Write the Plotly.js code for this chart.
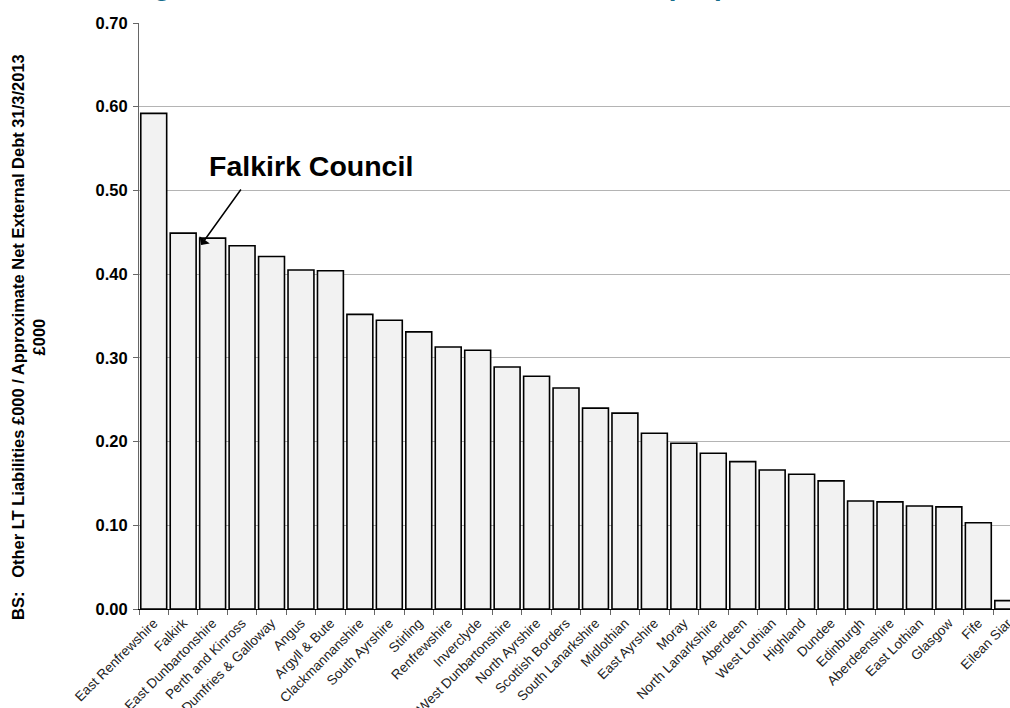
<!DOCTYPE html>
<html>
<head>
<meta charset="utf-8">
<script src="https://cdn.plot.ly/plotly-3.0.1.min.js"></script>
<style>html,body{margin:0;padding:0;background:#fff;}#chart{width:1010px;height:708px;}</style>
</head>
<body>
<div id="chart"></div>
<script>
const councils = ["East Renfrewshire","Falkirk","East Dunbartonshire","Perth and Kinross","Dumfries & Galloway","Angus","Argyll & Bute","Clackmannanshire","South Ayrshire","Stirling","Renfrewshire","Inverclyde","West Dunbartonshire","North Ayrshire","Scottish Borders","South Lanarkshire","Midlothian","East Ayrshire","Moray","North Lanarkshire","Aberdeen","West Lothian","Highland","Dundee","Edinburgh","Aberdeenshire","East Lothian","Glasgow","Fife","Eilean Siar"];
const ratios = [0.592,0.449,0.443,0.434,0.421,0.405,0.404,0.352,0.345,0.331,0.313,0.309,0.289,0.278,0.264,0.240,0.234,0.210,0.198,0.186,0.176,0.166,0.161,0.153,0.129,0.128,0.123,0.122,0.103,0.010];
const yTicks = [0,0.1,0.2,0.3,0.4,0.5,0.6,0.7];
const titleText = "Costs of long term PFI and finance lease debt as a proportion of net external debt";
const yTitle = "BS:\u00a0\u00a0\u00a0Other LT Liabilities £000 / Approximate Net External Debt 31/3/2013<br>£000";
const calloutText = "Falkirk Council";

const F = "Liberation Sans, Arial, sans-serif";
const L = 139, T = 23, W = 871, H = 586;
const pxX = p => (p - L) / W;            // paper x from pixel
const pxY = p => 1 - (p - T) / H;        // paper y from pixel

const trace = {
  type: 'bar', x: councils, y: ratios,
  marker: {color: '#f2f2f2', line: {color: '#000', width: 1.6}},
  hoverinfo: 'x+y'
};

const layout = {
  width: 1010, height: 708,
  margin: {l: L, t: T, r: 1010 - L - W, b: 708 - T - H, pad: 0},
  paper_bgcolor: '#fff', plot_bgcolor: '#fff',
  showlegend: false, bargap: 0.12,
  font: {family: F, color: '#000'},
  xaxis: {
    type: 'category', range: [-0.5, -0.5 + W / 29.45],
    tickson: 'boundaries', ticks: 'outside', ticklen: 5, tickcolor: '#666',
    tickangle: -45, tickfont: {family: F, size: 13.5, color: '#222'},
    showline: true, linecolor: '#000', linewidth: 1, showgrid: false, automargin: false
  },
  yaxis: {
    range: [0, 0.7], tickvals: yTicks, tickformat: '.2f',
    ticks: 'outside', ticklen: 5, tickcolor: '#666', ticklabelstandoff: 2,
    tickfont: {family: F, size: 16.5, color: '#000', weight: 'bold'},
    showline: true, linecolor: '#666', linewidth: 1,
    showgrid: true, gridcolor: '#b4b4b4', gridwidth: 1, zeroline: false, automargin: false
  },
  annotations: [
    {xref: 'paper', yref: 'paper', x: pxX(-10), y: pxY(2.5), xanchor: 'left', yanchor: 'bottom',
     text: titleText, showarrow: false,
     font: {family: F, size: 28, color: '#176D8C', weight: 'bold'}},
    {xref: 'paper', yref: 'paper', x: pxX(28), y: pxY(337), xanchor: 'center', yanchor: 'middle',
     text: yTitle, textangle: -90, showarrow: false,
     font: {family: F, size: 16.5, color: '#000', weight: 'bold'}},
    {xref: 'paper', yref: 'paper', x: pxX(311), y: pxY(166), xanchor: 'center', yanchor: 'middle',
     text: calloutText, showarrow: false,
     font: {family: F, size: 28.5, color: '#000', weight: 'bold'}},
    {xref: 'paper', yref: 'paper', x: pxX(201), y: pxY(245), text: '', showarrow: true,
     ax: 41, ay: -57, arrowhead: 1, arrowsize: 1.4, arrowwidth: 1.5, arrowcolor: '#000'}
  ]
};

Plotly.newPlot('chart', [trace], layout, {displayModeBar: false, staticPlot: true});
</script>
</body>
</html>
